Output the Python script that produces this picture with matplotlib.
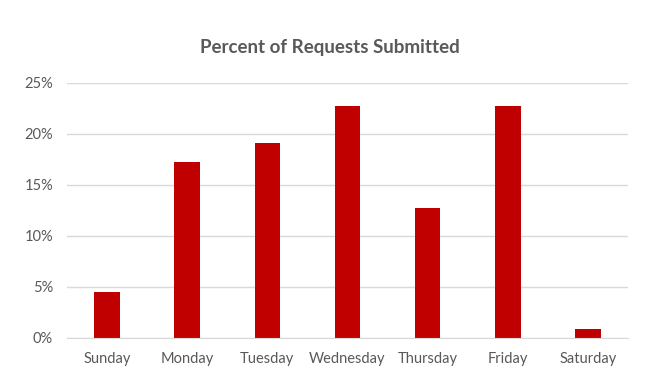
import matplotlib
matplotlib.use("Agg")
import matplotlib.pyplot as plt
from matplotlib.ticker import FuncFormatter

days = ["Sunday", "Monday", "Tuesday", "Wednesday", "Thursday", "Friday", "Saturday"]
percent = [4.5, 17.3, 19.1, 22.7, 12.7, 22.7, 0.9]
yticks = [0, 5, 10, 15, 20, 25]

plt.rcParams['font.family'] = ['Lato', 'DejaVu Sans']
text_color = "#595959"

fig = plt.figure(figsize=(6.54, 3.76), dpi=100)
ax = fig.add_axes([0.1024, 0.1011, 0.8578, 0.6782])

ax.bar(range(len(days)), percent, width=0.32, color="#C00000", zorder=3)

ax.set_xlim(-0.5, len(days) - 0.5)
ax.set_ylim(0, 25)
ax.set_yticks(yticks)
ax.yaxis.set_major_formatter(FuncFormatter(lambda v, p: f"{v:.0f}%"))
ax.set_xticks(range(len(days)))
ax.set_xticklabels(days)

ax.grid(axis="y", color="#D9D9D9", linewidth=1, zorder=0)
for s in ["top", "right", "left"]:
    ax.spines[s].set_visible(False)
ax.spines["bottom"].set_color("#D9D9D9")
ax.spines["bottom"].set_zorder(4)

ax.tick_params(axis="both", length=0, labelsize=10.5, labelcolor=text_color)
ax.tick_params(axis="y", pad=10)
ax.tick_params(axis="x", pad=10)

fig.text(0.505, 0.873, "Percent of Requests Submitted", ha="center", va="center",
         fontsize=13.5, fontweight="bold", color=text_color)

fig.savefig("out.png", dpi=100)
